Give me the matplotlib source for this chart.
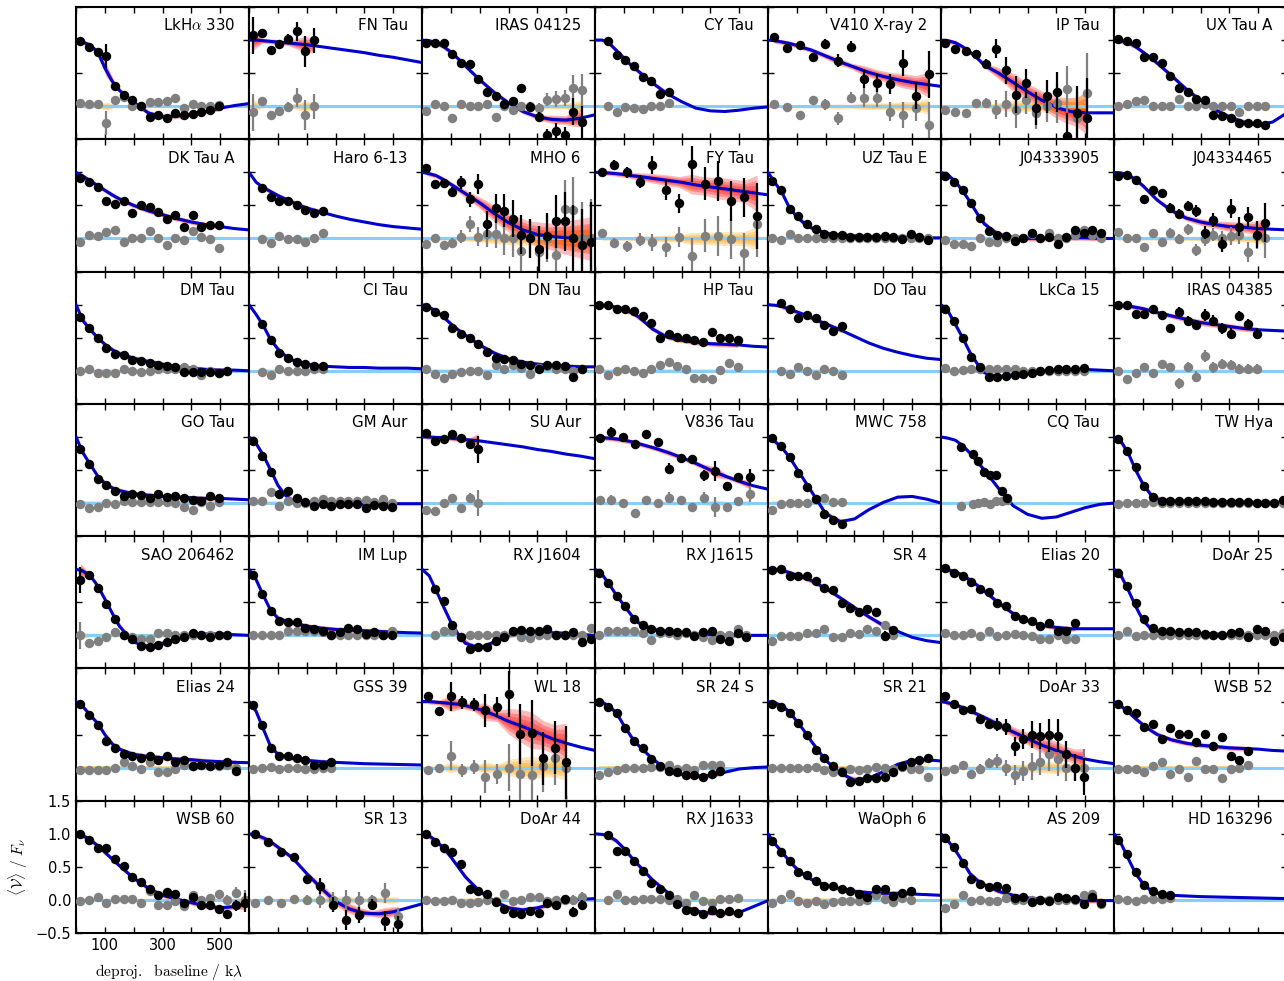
import numpy as np
import matplotlib
matplotlib.use("Agg")
import matplotlib.pyplot as plt

plt.rcParams['mathtext.fontset'] = 'cm'
plt.rcParams['font.family'] = 'DejaVu Sans'

# baselines (klambda) at which the model curves are tabulated
MODEL_U = [0, 25, 50, 75, 100, 125, 150, 200, 250, 300, 350, 400, 450, 500, 550, 600]
# standard 30 klambda bin centres
BINS30 = [15, 45, 75, 105, 135, 165, 195, 225, 255, 285, 315, 345, 375, 405, 435, 465, 495, 525, 555, 585]
CLEAN_ERR = 0.015  # bins whose error bars hide behind the marker

# ---- row 1 ----
lkha330_u = BINS30[:17]
lkha330_re = [0.99, 0.90, 0.82, 0.76, 0.30, 0.17, 0.10, 0.00, -0.16, -0.14, -0.18, -0.10, -0.13, -0.12, -0.09, -0.06, 0.00]
lkha330_im = [0.05, 0.03, 0.03, -0.25, 0.10, 0.14, 0.00, 0.00, 0.06, 0.06, 0.08, 0.13, -0.03, 0.03, 0.01, 0.00, 0.02]
lkha330_err = [0.02, 0.02, 0.03, 0.18, 0.05, 0.04, 0.03, 0.03, 0.03, 0.03, 0.03, 0.03, 0.03, 0.03, 0.03, 0.03, 0.04]
lkha330_mod = [1.0, 0.97, 0.92, 0.82, 0.58, 0.38, 0.24, 0.06, -0.10, -0.16, -0.15, -0.12, -0.08, -0.03, 0.01, 0.04]

fntau_u = BINS30[:8]
fntau_re = [1.07, 1.10, 0.85, 0.94, 1.02, 1.13, 0.83, 1.00]
fntau_im = [-0.09, 0.08, -0.14, -0.07, -0.01, 0.13, -0.13, 0.00]
fntau_err = [0.28, 0.05, 0.05, 0.06, 0.07, 0.14, 0.23, 0.19]
fntau_mod = [1.0, 1.0, 0.99, 0.98, 0.97, 0.96, 0.95, 0.93, 0.90, 0.87, 0.84, 0.81, 0.77, 0.74, 0.70, 0.66]

iras04125_u = BINS30[:19]
iras04125_re = [0.96, 0.95, 0.96, 0.79, 0.65, 0.64, 0.41, 0.22, 0.15, 0.04, 0.08, 0.27, -0.01, -0.16, -0.44, -0.38, -0.43, -0.08, -0.24]
iras04125_im = [-0.07, 0.04, 0.01, -0.18, 0.04, 0.01, 0.00, 0.04, -0.16, 0.00, -0.05, 0.00, 0.00, -0.03, 0.10, 0.11, 0.13, 0.27, 0.24]
iras04125_err = [0.02, 0.02, 0.02, 0.03, 0.03, 0.03, 0.04, 0.05, 0.05, 0.06, 0.06, 0.07, 0.07, 0.08, 0.10, 0.12, 0.12, 0.20, 0.25]
iras04125_mod = [1.0, 0.99, 0.96, 0.90, 0.82, 0.72, 0.61, 0.40, 0.21, 0.05, -0.08, -0.16, -0.20, -0.21, -0.18, -0.13]

cytau_u = BINS30[1:9]
cytau_re = [0.99, 0.77, 0.70, 0.61, 0.44, 0.38, 0.18, 0.22]
cytau_im = [0.00, -0.08, -0.01, -0.03, -0.04, 0.01, 0.01, 0.05]
cytau_mod = [1.0, 1.0, 0.95, 0.84, 0.73, 0.62, 0.53, 0.35, 0.19, 0.07, -0.03, -0.07, -0.08, -0.06, -0.03, -0.01]

v410_u = [21, 65, 110, 155, 199, 244, 289, 333, 378, 422, 467, 512, 557]
v410_re = [1.04, 0.88, 0.93, 0.74, 0.94, 0.69, 0.90, 0.41, 0.35, 0.33, 0.65, 0.16, 0.48]
v410_im = [0.04, -0.01, -0.13, 0.10, 0.03, -0.18, 0.13, 0.13, 0.13, -0.08, -0.13, -0.03, -0.29]
v410_err = [0.03, 0.04, 0.04, 0.05, 0.08, 0.10, 0.08, 0.14, 0.14, 0.15, 0.20, 0.20, 0.35]
v410_mod = [1.0, 0.99, 0.97, 0.95, 0.92, 0.88, 0.85, 0.76, 0.67, 0.59, 0.51, 0.45, 0.40, 0.36, 0.33, 0.30]

iptau_u = [13, 49, 85, 120, 156, 191, 226, 261, 296, 331, 366, 401, 436, 471, 506]
iptau_re = [0.96, 0.86, 0.83, 0.79, 0.64, 0.87, 0.54, 0.17, 0.35, -0.03, 0.15, 0.21, -0.45, -0.10, -0.18]
iptau_im = [-0.05, -0.08, -0.11, 0.05, 0.05, -0.05, 0.03, -0.05, 0.10, -0.10, 0.01, 0.05, 0.26, -0.18, 0.20]
iptau_err = [0.04, 0.05, 0.05, 0.06, 0.08, 0.14, 0.20, 0.28, 0.22, 0.25, 0.25, 0.30, 0.35, 0.40, 0.60]
iptau_mod = [1.0, 0.99, 0.96, 0.90, 0.82, 0.73, 0.62, 0.50, 0.36, 0.22, 0.09, -0.02, -0.08, -0.10, -0.10, -0.10]

uxtaua_u = BINS30[:18]
uxtaua_re = [1.01, 0.98, 0.95, 0.74, 0.75, 0.65, 0.45, 0.28, 0.21, 0.11, 0.09, -0.13, -0.15, -0.18, -0.25, -0.25, -0.25, -0.29]
uxtaua_im = [0.00, 0.04, 0.08, 0.10, 0.01, 0.00, 0.00, 0.11, 0.01, 0.01, 0.04, 0.00, 0.00, 0.00, -0.09, 0.00, 0.01, 0.00]
uxtaua_mod = [1.0, 0.99, 0.96, 0.90, 0.82, 0.74, 0.65, 0.46, 0.26, 0.09, -0.05, -0.16, -0.24, -0.28, -0.24, -0.10]

# ---- row 2 ----
dktaua_u = BINS30[:17]
dktaua_re = [0.92, 0.85, 0.78, 0.57, 0.52, 0.56, 0.39, 0.51, 0.47, 0.40, 0.30, 0.35, 0.18, 0.36, 0.18, 0.21, 0.21]
dktaua_im = [-0.05, 0.06, 0.04, 0.10, 0.13, -0.06, 0.00, 0.01, 0.11, 0.00, -0.10, 0.00, -0.02, 0.12, 0.03, -0.01, -0.14]
dktaua_mod = [1.0, 0.94, 0.87, 0.80, 0.73, 0.66, 0.60, 0.50, 0.42, 0.36, 0.30, 0.25, 0.21, 0.18, 0.15, 0.13]

haro613_u = BINS30[1:9]
haro613_re = [0.76, 0.63, 0.56, 0.56, 0.51, 0.43, 0.38, 0.41]
haro613_im = [-0.01, -0.07, 0.04, -0.01, -0.01, -0.05, 0.00, 0.08]
haro613_mod = [1.0, 0.85, 0.77, 0.71, 0.65, 0.60, 0.55, 0.46, 0.40, 0.34, 0.29, 0.25, 0.21, 0.18, 0.16, 0.14]

mho6_u = BINS30[:20]
mho6_re = [1.07, 0.83, 0.84, 0.70, 0.85, 0.59, 0.82, 0.22, 0.46, 0.42, 0.30, 0.06, 0.00, -0.16, 0.04, 0.26, 0.26, 0.00, -0.10, -0.05]
mho6_im = [-0.08, 0.00, -0.10, -0.07, 0.03, 0.22, 0.03, 0.07, 0.07, 0.00, 0.00, -0.19, 0.00, -0.20, 0.00, -0.25, 0.44, 0.43, 0.00, 0.00]
mho6_err = [0.04, 0.06, 0.06, 0.08, 0.10, 0.12, 0.15, 0.20, 0.22, 0.25, 0.28, 0.30, 0.30, 0.35, 0.35, 0.40, 0.45, 0.50, 0.55, 0.60]
mho6_mod = [1.0, 0.98, 0.95, 0.89, 0.82, 0.75, 0.68, 0.54, 0.38, 0.24, 0.13, 0.06, 0.03, 0.01, 0.00, 0.00]

fytau_u = [23, 66, 111, 156, 199, 246, 292, 335, 381, 427, 472, 516, 562]
fytau_re = [1.00, 1.11, 1.00, 0.86, 1.11, 0.73, 0.53, 1.13, 0.83, 0.87, 0.57, 0.62, 0.34]
fytau_im = [0.08, -0.07, -0.12, -0.02, -0.06, -0.13, 0.02, -0.27, 0.04, 0.04, -0.01, -0.22, 0.22]
fytau_err = [0.05, 0.07, 0.08, 0.10, 0.13, 0.15, 0.15, 0.27, 0.25, 0.30, 0.30, 0.30, 0.50]
fytau_mod = [1.0, 1.0, 0.99, 0.98, 0.97, 0.95, 0.94, 0.91, 0.88, 0.85, 0.81, 0.78, 0.75, 0.72, 0.69, 0.66]

uztaue_u = BINS30[:19]
uztaue_re = [0.87, 0.74, 0.44, 0.34, 0.22, 0.14, 0.07, 0.06, 0.05, 0.02, 0.02, 0.02, 0.03, 0.04, 0.02, -0.01, 0.07, 0.02, -0.02]
uztaue_im = [0.00, -0.02, 0.07, 0.00, 0.01, 0.00, 0.00, 0.01, 0.00, 0.00, 0.00, 0.00, 0.00, 0.00, 0.00, 0.00, 0.00, 0.00, 0.00]
uztaue_mod = [1.0, 0.84, 0.68, 0.46, 0.33, 0.23, 0.16, 0.08, 0.05, 0.04, 0.03, 0.03, 0.02, 0.02, 0.01, 0.01]

j0433_u = BINS30[:19]
j0433_re = [0.95, 0.86, 0.73, 0.53, 0.31, 0.12, 0.06, 0.04, -0.04, 0.00, 0.08, 0.00, 0.02, -0.09, 0.02, 0.13, 0.09, 0.13, 0.08]
j0433_im = [-0.02, -0.09, -0.09, -0.11, 0.00, -0.05, -0.05, 0.00, 0.00, 0.00, 0.07, 0.00, 0.09, 0.00, 0.00, 0.06, 0.13, 0.06, 0.00]
j0433_mod = [1.0, 0.96, 0.86, 0.72, 0.56, 0.38, 0.22, 0.06, 0.02, 0.00, 0.00, 0.01, 0.01, 0.01, 0.00, 0.00]

j0434_u = BINS30[:18]
j0434_re = [0.95, 0.96, 0.89, 0.60, 0.73, 0.69, 0.46, 0.37, 0.49, 0.42, 0.09, 0.28, -0.09, 0.45, 0.18, 0.32, 0.06, 0.24]
j0434_im = [0.10, 0.00, 0.00, -0.13, 0.09, -0.06, 0.09, -0.01, 0.14, -0.18, -0.01, 0.06, 0.00, 0.04, 0.06, -0.21, 0.04, 0.00]
j0434_err = [0.02, 0.02, 0.03, 0.05, 0.05, 0.06, 0.07, 0.08, 0.08, 0.09, 0.10, 0.10, 0.12, 0.14, 0.14, 0.15, 0.20, 0.30]
j0434_mod = [1.0, 0.99, 0.96, 0.89, 0.80, 0.69, 0.58, 0.42, 0.31, 0.25, 0.21, 0.18, 0.17, 0.15, 0.14, 0.13]

# ---- row 3 ----
dmtau_u = BINS30[:18]
dmtau_re = [0.81, 0.65, 0.50, 0.35, 0.26, 0.24, 0.17, 0.15, 0.12, 0.08, 0.07, 0.05, -0.02, -0.02, -0.02, -0.02, -0.04, 0.00]
dmtau_im = [0.00, 0.03, -0.03, -0.03, -0.04, 0.03, -0.01, -0.02, 0.00, 0.03, 0.03, 0.03, 0.06, 0.03, -0.06, 0.00, -0.03, 0.00]
dmtau_mod = [1.0, 0.75, 0.62, 0.50, 0.40, 0.32, 0.26, 0.19, 0.14, 0.10, 0.06, 0.04, 0.02, 0.01, 0.01, 0.00]

citau_u = BINS30[1:9]
citau_re = [0.70, 0.46, 0.27, 0.20, 0.14, 0.11, 0.07, 0.07]
citau_im = [-0.02, -0.07, 0.03, -0.01, -0.01, 0.00, 0.02, 0.02]
citau_mod = [1.0, 0.85, 0.68, 0.47, 0.33, 0.23, 0.16, 0.10, 0.07, 0.06, 0.05, 0.05, 0.04, 0.04, 0.04, 0.03]

dntau_u = BINS30[:19]
dntau_re = [0.97, 0.89, 0.84, 0.64, 0.56, 0.50, 0.41, 0.29, 0.20, 0.18, 0.16, 0.10, 0.09, 0.03, 0.09, 0.09, 0.07, -0.09, 0.03]
dntau_im = [0.03, -0.05, -0.11, -0.05, -0.02, -0.01, -0.01, -0.06, 0.08, 0.03, 0.09, 0.04, -0.05, 0.04, 0.07, 0.02, 0.03, 0.00, 0.03]
dntau_err = [0.02] * 14 + [0.03, 0.03, 0.04, 0.06, 0.04]
dntau_mod = [1.0, 0.96, 0.90, 0.81, 0.71, 0.62, 0.54, 0.39, 0.27, 0.18, 0.13, 0.10, 0.08, 0.07, 0.06, 0.06]

hptau_u = BINS30[:17]
hptau_re = [0.99, 0.99, 0.94, 0.93, 0.91, 0.83, 0.73, 0.49, 0.56, 0.51, 0.49, 0.46, 0.43, 0.58, 0.49, 0.50, 0.46]
hptau_im = [0.03, -0.06, -0.01, 0.03, 0.00, -0.03, 0.03, 0.08, 0.13, 0.07, 0.03, -0.11, -0.11, -0.12, 0.01, 0.12, 0.06]
hptau_err = [0.02] * 7 + [0.03, 0.03, 0.03, 0.03, 0.03, 0.03, 0.04, 0.05, 0.05, 0.06]
hptau_mod = [1.0, 0.99, 0.98, 0.96, 0.93, 0.88, 0.82, 0.63, 0.51, 0.46, 0.43, 0.41, 0.40, 0.39, 0.37, 0.36]

dotau_u = BINS30[1:9]
dotau_re = [1.02, 0.93, 0.80, 0.85, 0.80, 0.69, 0.60, 0.67]
dotau_im = [0.00, -0.05, 0.06, 0.00, -0.07, 0.03, 0.00, -0.06]
dotau_mod = [1.0, 0.99, 0.97, 0.93, 0.89, 0.85, 0.80, 0.71, 0.62, 0.52, 0.42, 0.34, 0.28, 0.23, 0.19, 0.17]

lkca15_u = BINS30[:17]
lkca15_re = [0.94, 0.75, 0.49, 0.21, 0.05, -0.09, -0.10, -0.08, -0.07, -0.05, -0.03, -0.01, 0.01, 0.02, 0.03, 0.03, 0.04]
lkca15_im = [0.04, -0.01, 0.01, 0.02, 0.02, 0.02, 0.02, 0.02, 0.02, 0.00, 0.00, 0.00, 0.00, 0.00, 0.00, 0.00, 0.00]
lkca15_mod = [1.0, 0.90, 0.70, 0.50, 0.28, 0.11, -0.03, -0.09, -0.06, -0.03, -0.01, 0.01, 0.02, 0.02, 0.01, 0.00]

iras04385_u = BINS30[:17]
iras04385_re = [1.00, 1.00, 0.86, 0.86, 0.93, 0.85, 0.64, 0.89, 0.75, 0.69, 0.85, 0.76, 0.64, 0.56, 0.83, 0.70, 0.56]
iras04385_im = [0.00, -0.13, -0.04, 0.06, -0.04, 0.10, 0.06, -0.19, 0.06, -0.09, 0.22, 0.05, 0.10, 0.09, 0.03, 0.03, 0.03]
iras04385_err = [0.02, 0.03, 0.04, 0.04, 0.05, 0.06, 0.06, 0.08, 0.08, 0.08, 0.09, 0.08, 0.08, 0.08, 0.08, 0.08, 0.08]
iras04385_mod = [1.0, 0.99, 0.98, 0.96, 0.94, 0.91, 0.88, 0.83, 0.78, 0.73, 0.70, 0.67, 0.64, 0.62, 0.61, 0.60]

# ---- row 4 ----
gotau_u = BINS30[:17]
gotau_re = [0.82, 0.59, 0.36, 0.27, 0.19, 0.11, 0.14, 0.12, 0.08, 0.13, 0.09, 0.11, 0.07, 0.04, 0.03, 0.11, 0.07]
gotau_im = [-0.01, -0.07, -0.06, 0.00, -0.01, 0.03, 0.01, 0.01, 0.02, 0.01, 0.02, 0.00, -0.06, -0.10, 0.02, -0.05, 0.02]
gotau_mod = [1.0, 0.75, 0.58, 0.41, 0.30, 0.23, 0.19, 0.14, 0.12, 0.10, 0.09, 0.08, 0.07, 0.07, 0.06, 0.05]

gmaur_u = BINS30[:17]
gmaur_re = [0.94, 0.71, 0.47, 0.13, 0.18, 0.07, 0.02, -0.04, -0.01, -0.04, -0.02, -0.02, -0.01, -0.07, -0.03, -0.04, -0.06]
gmaur_im = [0.03, 0.03, 0.16, -0.04, 0.03, 0.00, 0.00, 0.03, 0.06, 0.03, 0.03, 0.03, 0.03, 0.04, 0.02, 0.06, 0.00]
gmaur_mod = [1.0, 0.90, 0.72, 0.50, 0.27, 0.12, 0.04, -0.01, -0.02, -0.02, -0.02, -0.02, -0.01, -0.01, -0.01, -0.01]

suaur_u = BINS30[:7]
suaur_re = [1.06, 0.94, 0.97, 1.04, 0.99, 0.89, 0.81]
suaur_im = [-0.10, -0.12, 0.00, 0.07, -0.07, 0.08, 0.00]
suaur_err = [0.03, 0.03, 0.03, 0.04, 0.05, 0.07, 0.20]
suaur_mod = [1.0, 1.0, 0.99, 0.99, 0.98, 0.97, 0.96, 0.94, 0.91, 0.88, 0.85, 0.81, 0.78, 0.74, 0.71, 0.67]

v836_u = [17, 57, 97, 137, 177, 217, 257, 297, 337, 377, 417, 457, 497, 537]
v836_re = [0.99, 1.08, 1.00, 0.89, 1.04, 0.92, 0.52, 0.68, 0.67, 0.42, 0.48, 0.26, 0.40, 0.40]
v836_im = [0.05, 0.05, 0.00, -0.15, 0.04, 0.00, 0.08, 0.04, -0.06, 0.08, -0.06, -0.06, 0.03, 0.13]
v836_err = [0.03, 0.07, 0.04, 0.05, 0.05, 0.05, 0.08, 0.06, 0.06, 0.08, 0.15, 0.06, 0.06, 0.12]
v836_mod = [1.0, 0.99, 0.98, 0.97, 0.95, 0.93, 0.90, 0.84, 0.77, 0.69, 0.60, 0.50, 0.41, 0.33, 0.26, 0.21]

mwc758_u = BINS30[:9]
mwc758_re = [0.98, 0.86, 0.69, 0.46, 0.25, 0.06, -0.16, -0.26, -0.31]
mwc758_im = [-0.11, -0.01, 0.00, 0.00, 0.00, 0.06, 0.07, 0.01, 0.02]
mwc758_mod = [1.0, 0.93, 0.83, 0.69, 0.52, 0.35, 0.18, -0.16, -0.28, -0.24, -0.10, 0.01, 0.09, 0.10, 0.06, 0.00]

cqtau_u = [70, 110, 130, 150, 170, 190, 210, 230]
cqtau_re = [0.85, 0.74, 0.63, 0.47, 0.43, 0.42, 0.19, 0.08]
cqtau_im = [-0.05, -0.01, 0.00, 0.01, -0.01, 0.03, 0.03, 0.05]
cqtau_mod = [1.0, 0.98, 0.95, 0.87, 0.76, 0.63, 0.50, 0.22, -0.04, -0.17, -0.23, -0.21, -0.14, -0.07, -0.02, 0.00]

twhya_u = BINS30[:20]
twhya_re = [0.97, 0.78, 0.54, 0.26, 0.09, 0.03, 0.03, 0.03, 0.03, 0.03, 0.03, 0.02, 0.02, 0.01, 0.01, 0.01, 0.00, 0.00, 0.00, 0.05]
twhya_im = [-0.02, 0.00, 0.00, 0.00, 0.01, 0.00, 0.00, 0.00, 0.00, 0.00, 0.00, 0.00, 0.00, 0.00, 0.00, 0.00, 0.00, 0.00, 0.00, 0.00]
twhya_mod = [1.0, 0.93, 0.75, 0.50, 0.29, 0.14, 0.06, 0.03, 0.03, 0.03, 0.02, 0.02, 0.01, 0.01, 0.01, 0.01]

# ---- row 5 ----
sao206462_u = BINS30[:18]
sao206462_re = [0.84, 0.92, 0.71, 0.47, 0.25, 0.00, -0.06, -0.16, -0.18, -0.14, -0.10, -0.05, -0.03, 0.04, 0.01, -0.03, 0.01, 0.01]
sao206462_im = [0.00, -0.11, -0.08, -0.03, 0.05, 0.00, -0.03, -0.05, -0.05, 0.04, 0.04, 0.00, 0.00, 0.00, 0.00, 0.00, 0.00, 0.00]
sao206462_err = [0.20] + [0.02] * 17
sao206462_mod = [1.0, 0.97, 0.90, 0.75, 0.55, 0.34, 0.14, -0.10, -0.17, -0.12, -0.05, 0.00, 0.02, 0.02, 0.01, 0.00]

imlup_u = BINS30[:17]
imlup_re = [0.91, 0.63, 0.37, 0.22, 0.20, 0.20, 0.11, 0.10, 0.07, 0.01, 0.05, 0.11, 0.09, 0.02, 0.05, 0.00, 0.00]
imlup_im = [0.00, 0.00, 0.01, 0.01, 0.06, 0.06, 0.06, 0.06, 0.05, 0.00, 0.00, 0.00, 0.00, 0.00, 0.00, 0.00, 0.06]
imlup_mod = [1.0, 0.84, 0.60, 0.38, 0.26, 0.22, 0.19, 0.14, 0.11, 0.09, 0.08, 0.07, 0.06, 0.05, 0.04, 0.035]

rxj1604_u = BINS30[1:20]
rxj1604_re = [0.70, 0.52, 0.16, -0.03, -0.20, -0.18, -0.18, -0.08, -0.02, 0.06, 0.08, 0.07, 0.06, 0.09, 0.00, 0.00, 0.05, -0.10, -0.05]
rxj1604_im = [0.00, 0.06, 0.06, -0.03, 0.00, 0.01, 0.01, 0.01, 0.00, 0.05, -0.03, -0.04, 0.00, 0.00, 0.00, 0.00, 0.00, 0.00, 0.11]
rxj1604_mod = [1.0, 0.90, 0.67, 0.43, 0.20, 0.02, -0.12, -0.19, -0.10, 0.00, 0.05, 0.05, 0.04, 0.03, 0.01, 0.00]

rxj1615_u = BINS30[:18]
rxj1615_re = [0.95, 0.79, 0.59, 0.44, 0.24, 0.15, 0.09, 0.07, 0.07, 0.05, 0.05, -0.01, 0.05, 0.06, -0.06, -0.08, 0.04, -0.03]
rxj1615_im = [0.00, 0.06, 0.06, 0.06, 0.06, 0.03, -0.07, 0.03, 0.04, 0.01, 0.04, 0.00, -0.03, -0.07, 0.00, 0.01, 0.10, 0.00]
rxj1615_mod = [1.0, 0.92, 0.77, 0.60, 0.46, 0.31, 0.19, 0.09, 0.06, 0.04, 0.02, 0.01, 0.00, 0.00, 0.00, 0.00]

sr4_u = BINS30[:15]
sr4_re = [0.99, 1.00, 0.90, 0.90, 0.89, 0.82, 0.72, 0.69, 0.49, 0.42, 0.35, 0.40, 0.35, -0.01, 0.08]
sr4_im = [-0.09, -0.01, -0.01, -0.01, 0.04, 0.04, 0.09, -0.03, -0.03, 0.04, 0.02, 0.09, 0.06, 0.15, 0.00]
sr4_err = [0.02] * 13 + [0.07, 0.04]
sr4_mod = [1.0, 1.0, 0.98, 0.95, 0.91, 0.87, 0.83, 0.71, 0.57, 0.42, 0.28, 0.15, 0.06, -0.03, -0.08, -0.11]

elias20_u = BINS30[:16]
elias20_re = [1.02, 0.94, 0.90, 0.80, 0.70, 0.65, 0.49, 0.44, 0.29, 0.24, 0.21, 0.14, 0.19, 0.07, 0.07, 0.19]
elias20_im = [0.03, 0.00, 0.01, 0.04, -0.01, 0.07, -0.01, 0.01, 0.02, 0.01, -0.01, -0.06, -0.06, 0.00, -0.06, -0.06]
elias20_mod = [1.0, 0.99, 0.96, 0.91, 0.84, 0.76, 0.67, 0.49, 0.33, 0.22, 0.15, 0.12, 0.10, 0.10, 0.10, 0.10]

doar25_u = BINS30[:20]
doar25_re = [0.95, 0.74, 0.49, 0.24, 0.11, 0.07, 0.07, 0.05, 0.05, 0.05, 0.02, 0.01, 0.00, 0.04, 0.05, -0.03, 0.09, 0.06, -0.08, -0.03]
doar25_im = [0.01, 0.06, -0.01, 0.00, 0.01, 0.00, 0.00, 0.00, 0.00, 0.00, 0.00, 0.00, 0.00, 0.00, 0.00, 0.00, 0.00, 0.00, 0.00, 0.03]
doar25_mod = [1.0, 0.90, 0.68, 0.44, 0.23, 0.11, 0.06, 0.04, 0.03, 0.02, 0.02, 0.01, 0.01, 0.01, 0.00, 0.00]

# ---- row 6 ----
elias24_u = BINS30[:19]
elias24_re = [0.96, 0.80, 0.65, 0.40, 0.30, 0.20, 0.18, 0.15, 0.17, 0.12, 0.18, 0.09, 0.12, 0.02, 0.04, 0.02, 0.04, 0.09, -0.05]
elias24_im = [-0.04, -0.03, -0.03, -0.03, 0.00, 0.08, 0.03, -0.02, 0.09, -0.07, -0.07, -0.02, 0.04, 0.03, 0.04, 0.02, 0.03, 0.04, 0.00]
elias24_mod = [1.0, 0.92, 0.79, 0.67, 0.50, 0.36, 0.28, 0.20, 0.17, 0.15, 0.13, 0.12, 0.10, 0.09, 0.08, 0.075]

gss39_u = BINS30[:10]
gss39_re = [0.95, 0.65, 0.29, 0.17, 0.18, 0.15, 0.11, 0.04, 0.04, 0.08]
gss39_im = [-0.02, 0.00, 0.01, -0.02, -0.01, -0.01, -0.02, -0.02, -0.01, 0.00]
gss39_mod = [1.0, 0.85, 0.58, 0.32, 0.20, 0.17, 0.14, 0.11, 0.09, 0.08, 0.07, 0.06, 0.055, 0.05, 0.045, 0.04]

wl18_u = [20, 60, 100, 140, 180, 220, 260, 300, 340, 380, 420, 460, 500]
wl18_re = [1.09, 0.86, 1.08, 0.99, 0.96, 0.87, 0.92, 1.11, 0.51, 0.52, 0.14, 0.30, 0.08]
wl18_im = [-0.04, 0.00, 0.18, -0.04, 0.01, -0.14, -0.09, 0.00, -0.09, -0.11, 0.03, 0.14, 0.00]
wl18_err = [0.05, 0.05, 0.22, 0.10, 0.10, 0.25, 0.15, 0.35, 0.45, 0.50, 0.40, 0.40, 0.55]
wl18_mod = [1.0, 1.0, 0.99, 0.98, 0.97, 0.96, 0.94, 0.88, 0.80, 0.70, 0.62, 0.53, 0.44, 0.37, 0.31, 0.26]

sr24s_u = BINS30[:15]
sr24s_re = [1.00, 0.92, 0.82, 0.60, 0.40, 0.29, 0.13, 0.03, -0.05, -0.07, -0.11, -0.11, -0.14, -0.09, -0.05]
sr24s_im = [-0.11, -0.07, -0.04, -0.01, 0.00, 0.00, 0.01, 0.01, 0.04, -0.02, -0.01, -0.04, 0.04, 0.04, 0.04]
sr24s_mod = [1.0, 0.99, 0.93, 0.82, 0.64, 0.47, 0.34, 0.13, -0.03, -0.10, -0.13, -0.12, -0.07, -0.02, 0.00, 0.01]

sr21_u = BINS30[:19]
sr21_re = [0.96, 0.92, 0.83, 0.67, 0.49, 0.27, 0.15, 0.03, -0.07, -0.22, -0.20, -0.16, -0.15, -0.14, -0.06, 0.02, 0.09, 0.12, 0.15]
sr21_im = [0.00, 0.00, 0.00, 0.00, 0.00, 0.01, -0.04, -0.06, -0.05, -0.02, -0.04, -0.02, 0.01, 0.00, -0.02, 0.01, -0.02, -0.02, -0.14]
sr21_mod = [1.0, 0.98, 0.93, 0.84, 0.70, 0.56, 0.40, 0.11, -0.08, -0.19, -0.16, -0.06, 0.05, 0.11, 0.12, 0.10]

doar33_u = BINS30[:17]
doar33_re = [1.09, 0.96, 0.87, 0.89, 0.74, 0.66, 0.65, 0.62, 0.32, 0.43, 0.50, 0.48, 0.49, 0.48, 0.20, 0.00, -0.14]
doar33_im = [-0.05, -0.02, 0.04, -0.10, -0.02, 0.07, 0.10, 0.00, -0.11, -0.05, 0.02, 0.09, 0.20, 0.13, 0.00, 0.00, 0.00]
doar33_err = [0.05, 0.05, 0.05, 0.06, 0.07, 0.08, 0.10, 0.12, 0.15, 0.15, 0.20, 0.20, 0.25, 0.25, 0.20, 0.20, 0.28]
doar33_mod = [1.0, 0.98, 0.95, 0.91, 0.86, 0.81, 0.76, 0.65, 0.54, 0.44, 0.34, 0.26, 0.19, 0.13, 0.09, 0.06]

wsb52_u = BINS30[:16]
wsb52_re = [0.96, 0.87, 0.82, 0.61, 0.66, 0.43, 0.60, 0.51, 0.51, 0.39, 0.51, 0.33, 0.47, 0.18, 0.12, 0.25]
wsb52_im = [-0.02, -0.02, -0.02, -0.06, 0.02, 0.08, -0.10, -0.02, -0.14, 0.10, -0.02, -0.02, -0.16, -0.02, 0.00, 0.04]
wsb52_err = [0.02, 0.02, 0.03, 0.03, 0.04, 0.05, 0.05, 0.04, 0.04, 0.04, 0.04, 0.04, 0.05, 0.06, 0.06, 0.06]
wsb52_mod = [1.0, 0.93, 0.84, 0.74, 0.65, 0.57, 0.50, 0.42, 0.37, 0.34, 0.32, 0.30, 0.29, 0.28, 0.26, 0.25]

# ---- row 7 ----
wsb60_u = BINS30[:20]
wsb60_re = [1.00, 0.91, 0.78, 0.78, 0.62, 0.52, 0.35, 0.27, 0.16, 0.08, 0.12, 0.09, -0.05, 0.04, -0.08, -0.08, -0.13, -0.22, -0.08, -0.04]
wsb60_im = [-0.02, 0.00, 0.04, -0.05, 0.02, 0.02, 0.01, -0.05, 0.13, -0.07, -0.07, -0.02, -0.09, 0.08, 0.00, 0.03, 0.09, 0.00, 0.11, 0.00]
wsb60_err = [0.02] * 12 + [0.04, 0.04, 0.05, 0.05, 0.06, 0.07, 0.08, 0.15]
wsb60_mod = [1.0, 0.97, 0.91, 0.82, 0.72, 0.62, 0.52, 0.33, 0.18, 0.07, 0.01, -0.04, -0.09, -0.12, -0.10, -0.05]

sr13_u = [22, 67, 112, 157, 202, 247, 292, 337, 382, 427, 472, 517]
sr13_re = [0.99, 0.88, 0.73, 0.65, 0.31, 0.21, -0.07, -0.30, -0.23, -0.07, -0.32, -0.37]
sr13_im = [-0.05, 0.00, -0.05, 0.02, 0.00, 0.00, 0.00, 0.00, 0.00, 0.00, 0.10, -0.24]
sr13_err = [0.02, 0.03, 0.03, 0.04, 0.07, 0.12, 0.12, 0.15, 0.12, 0.08, 0.15, 0.12]
sr13_mod = [1.0, 0.98, 0.94, 0.88, 0.80, 0.72, 0.64, 0.40, 0.18, -0.02, -0.14, -0.20, -0.21, -0.18, -0.12, -0.06]

doar44_u = BINS30[:19]
doar44_re = [1.00, 0.87, 0.79, 0.73, 0.55, 0.17, 0.13, 0.09, -0.03, -0.13, -0.20, -0.22, -0.17, -0.20, -0.05, -0.07, 0.02, -0.18, -0.07]
doar44_im = [0.00, -0.01, -0.01, 0.00, -0.05, -0.05, -0.03, 0.00, -0.01, 0.09, -0.01, 0.00, 0.05, 0.05, -0.01, 0.00, 0.00, 0.00, 0.05]
doar44_err = [0.02] * 14 + [0.04, 0.05, 0.06, 0.07, 0.07]
doar44_mod = [1.0, 0.97, 0.89, 0.78, 0.65, 0.50, 0.35, 0.13, -0.02, -0.12, -0.15, -0.12, -0.06, -0.01, 0.01, 0.02]

rxj1633_u = BINS30[1:17]
rxj1633_re = [0.98, 0.74, 0.74, 0.59, 0.44, 0.26, 0.16, 0.08, -0.06, -0.15, -0.17, -0.21, -0.15, -0.20, -0.17, -0.20]
rxj1633_im = [0.00, 0.09, 0.00, 0.00, 0.02, 0.02, 0.02, 0.00, 0.02, -0.05, 0.08, -0.01, -0.05, 0.02, 0.02, 0.03]
rxj1633_mod = [1.0, 0.99, 0.96, 0.89, 0.78, 0.65, 0.53, 0.30, 0.12, -0.07, -0.17, -0.20, -0.20, -0.19, -0.10, -0.01]

waoph6_u = BINS30[:17]
waoph6_re = [0.89, 0.73, 0.59, 0.42, 0.37, 0.28, 0.21, 0.21, 0.16, 0.13, 0.09, 0.05, 0.17, 0.17, 0.06, 0.11, 0.13]
waoph6_im = [-0.05, 0.02, 0.09, -0.01, -0.05, -0.01, -0.06, -0.03, -0.02, -0.02, -0.02, 0.00, 0.07, 0.02, -0.03, 0.03, 0.00]
waoph6_mod = [1.0, 0.84, 0.72, 0.58, 0.47, 0.38, 0.31, 0.22, 0.17, 0.13, 0.11, 0.10, 0.10, 0.09, 0.08, 0.07]

as209_u = BINS30[:19]
as209_re = [0.94, 0.80, 0.56, 0.32, 0.24, 0.19, 0.21, 0.18, 0.03, 0.04, -0.03, 0.00, -0.02, 0.04, 0.03, 0.02, -0.06, 0.04, -0.05]
as209_im = [-0.12, -0.06, 0.08, -0.01, 0.00, -0.02, -0.01, 0.03, 0.00, 0.00, 0.00, 0.00, 0.00, 0.00, 0.00, 0.00, 0.08, 0.09, -0.06]
as209_mod = [1.0, 0.89, 0.75, 0.58, 0.40, 0.30, 0.23, 0.13, 0.07, 0.03, 0.01, 0.00, 0.00, -0.01, -0.01, -0.01]

hd163296_u = BINS30[:7]
hd163296_re = [0.91, 0.69, 0.42, 0.22, 0.13, 0.09, 0.07]
hd163296_im = [0.01, 0.00, -0.02, 0.01, 0.01, 0.01, 0.03]
hd163296_mod = [1.0, 0.85, 0.62, 0.40, 0.25, 0.15, 0.10, 0.07, 0.06, 0.05, 0.045, 0.04, 0.035, 0.03, 0.025, 0.02]

PANELS = [
    (r"LkH$\alpha$ 330", lkha330_u, lkha330_re, lkha330_im, lkha330_err, lkha330_mod),
    ("FN Tau", fntau_u, fntau_re, fntau_im, fntau_err, fntau_mod),
    ("IRAS 04125", iras04125_u, iras04125_re, iras04125_im, iras04125_err, iras04125_mod),
    ("CY Tau", cytau_u, cytau_re, cytau_im, None, cytau_mod),
    ("V410 X-ray 2", v410_u, v410_re, v410_im, v410_err, v410_mod),
    ("IP Tau", iptau_u, iptau_re, iptau_im, iptau_err, iptau_mod),
    ("UX Tau A", uxtaua_u, uxtaua_re, uxtaua_im, None, uxtaua_mod),
    ("DK Tau A", dktaua_u, dktaua_re, dktaua_im, None, dktaua_mod),
    ("Haro 6-13", haro613_u, haro613_re, haro613_im, None, haro613_mod),
    ("MHO 6", mho6_u, mho6_re, mho6_im, mho6_err, mho6_mod),
    ("FY Tau", fytau_u, fytau_re, fytau_im, fytau_err, fytau_mod),
    ("UZ Tau E", uztaue_u, uztaue_re, uztaue_im, None, uztaue_mod),
    ("J04333905", j0433_u, j0433_re, j0433_im, None, j0433_mod),
    ("J04334465", j0434_u, j0434_re, j0434_im, j0434_err, j0434_mod),
    ("DM Tau", dmtau_u, dmtau_re, dmtau_im, None, dmtau_mod),
    ("CI Tau", citau_u, citau_re, citau_im, None, citau_mod),
    ("DN Tau", dntau_u, dntau_re, dntau_im, dntau_err, dntau_mod),
    ("HP Tau", hptau_u, hptau_re, hptau_im, hptau_err, hptau_mod),
    ("DO Tau", dotau_u, dotau_re, dotau_im, None, dotau_mod),
    ("LkCa 15", lkca15_u, lkca15_re, lkca15_im, None, lkca15_mod),
    ("IRAS 04385", iras04385_u, iras04385_re, iras04385_im, iras04385_err, iras04385_mod),
    ("GO Tau", gotau_u, gotau_re, gotau_im, None, gotau_mod),
    ("GM Aur", gmaur_u, gmaur_re, gmaur_im, None, gmaur_mod),
    ("SU Aur", suaur_u, suaur_re, suaur_im, suaur_err, suaur_mod),
    ("V836 Tau", v836_u, v836_re, v836_im, v836_err, v836_mod),
    ("MWC 758", mwc758_u, mwc758_re, mwc758_im, None, mwc758_mod),
    ("CQ Tau", cqtau_u, cqtau_re, cqtau_im, None, cqtau_mod),
    ("TW Hya", twhya_u, twhya_re, twhya_im, None, twhya_mod),
    ("SAO 206462", sao206462_u, sao206462_re, sao206462_im, sao206462_err, sao206462_mod),
    ("IM Lup", imlup_u, imlup_re, imlup_im, None, imlup_mod),
    ("RX J1604", rxj1604_u, rxj1604_re, rxj1604_im, None, rxj1604_mod),
    ("RX J1615", rxj1615_u, rxj1615_re, rxj1615_im, None, rxj1615_mod),
    ("SR 4", sr4_u, sr4_re, sr4_im, sr4_err, sr4_mod),
    ("Elias 20", elias20_u, elias20_re, elias20_im, None, elias20_mod),
    ("DoAr 25", doar25_u, doar25_re, doar25_im, None, doar25_mod),
    ("Elias 24", elias24_u, elias24_re, elias24_im, None, elias24_mod),
    ("GSS 39", gss39_u, gss39_re, gss39_im, None, gss39_mod),
    ("WL 18", wl18_u, wl18_re, wl18_im, wl18_err, wl18_mod),
    ("SR 24 S", sr24s_u, sr24s_re, sr24s_im, None, sr24s_mod),
    ("SR 21", sr21_u, sr21_re, sr21_im, None, sr21_mod),
    ("DoAr 33", doar33_u, doar33_re, doar33_im, doar33_err, doar33_mod),
    ("WSB 52", wsb52_u, wsb52_re, wsb52_im, wsb52_err, wsb52_mod),
    ("WSB 60", wsb60_u, wsb60_re, wsb60_im, wsb60_err, wsb60_mod),
    ("SR 13", sr13_u, sr13_re, sr13_im, sr13_err, sr13_mod),
    ("DoAr 44", doar44_u, doar44_re, doar44_im, doar44_err, doar44_mod),
    ("RX J1633", rxj1633_u, rxj1633_re, rxj1633_im, None, rxj1633_mod),
    ("WaOph 6", waoph6_u, waoph6_re, waoph6_im, None, waoph6_mod),
    ("AS 209", as209_u, as209_re, as209_im, None, as209_mod),
    ("HD 163296", hd163296_u, hd163296_re, hd163296_im, None, hd163296_mod),
]

fig = plt.figure(figsize=(12.84, 9.81), dpi=100)
gs = fig.add_gridspec(7, 7, left=76 / 1284, right=1287 / 1284, bottom=48 / 981, top=974 / 981,
                      wspace=0, hspace=0)

for i, (name, u, re, im, err, mod) in enumerate(PANELS):
    ax = fig.add_subplot(gs[i // 7, i % 7])
    u = np.asarray(u, float)
    re = np.asarray(re, float)
    im = np.asarray(im, float)
    err = np.full(len(u), CLEAN_ERR) if err is None else np.asarray(err, float)

    # posterior spread: red around the model, orange around zero (imaginary part)
    centre = np.interp(u, MODEL_U, mod)
    hw_re = np.maximum(0.55 * err, 0.038)
    hw_im = np.maximum(0.35 * err, 0.025)
    for f in (1.0, 0.7, 0.45, 0.2):
        ax.fill_between(u, centre - f * hw_re, centre + f * hw_re, color='red', alpha=0.27, lw=0, zorder=1)
        ax.fill_between(u, -f * hw_im, f * hw_im, color='#ffa000', alpha=0.25, lw=0, zorder=1)

    ax.axhline(0, color='#87cefa', lw=2.2, zorder=2)
    ax.plot(MODEL_U, mod, color='#0000cc', lw=2.2, zorder=3)
    ax.errorbar(u, im, yerr=err, fmt='o', color='#808080', ms=6.8, mew=0,
                elinewidth=1.6, capsize=0, zorder=4)
    ax.errorbar(u, re, yerr=err, fmt='o', color='black', ms=6.8, mew=0,
                elinewidth=1.6, capsize=0, zorder=5)

    ax.text(0.918, 0.823, name, transform=ax.transAxes, ha='right', va='baseline', fontsize=10.8)

    ax.set_xlim(0, 600)
    ax.set_ylim(-0.5, 1.5)
    ax.set_xticks([0, 100, 200, 300, 400, 500, 600])
    ax.set_yticks([-0.5, 0.0, 0.5, 1.0, 1.5])
    ax.tick_params(direction='in', top=True, right=True, length=4, width=1,
                   labelbottom=False, labelleft=False, labelsize=10.5)
    for sp in ax.spines.values():
        sp.set_linewidth(1.5)

    if i == 42:
        ax.tick_params(labelbottom=True, labelleft=True)
        ax.set_xticklabels(['', '100', '', '300', '', '500', ''])
        ax.set_xlabel(r'$\mathrm{deproj.\ \ baseline\ /\ k}\lambda$', fontsize=11.2)
        ax.set_ylabel(r'$\langle \mathcal{V} \rangle\ /\ F_\nu$', fontsize=11)
        ax.xaxis.set_label_coords(0.54, -0.22)
        ax.yaxis.set_label_coords(-0.265, 0.5)

fig.savefig("out.png", dpi=100)
